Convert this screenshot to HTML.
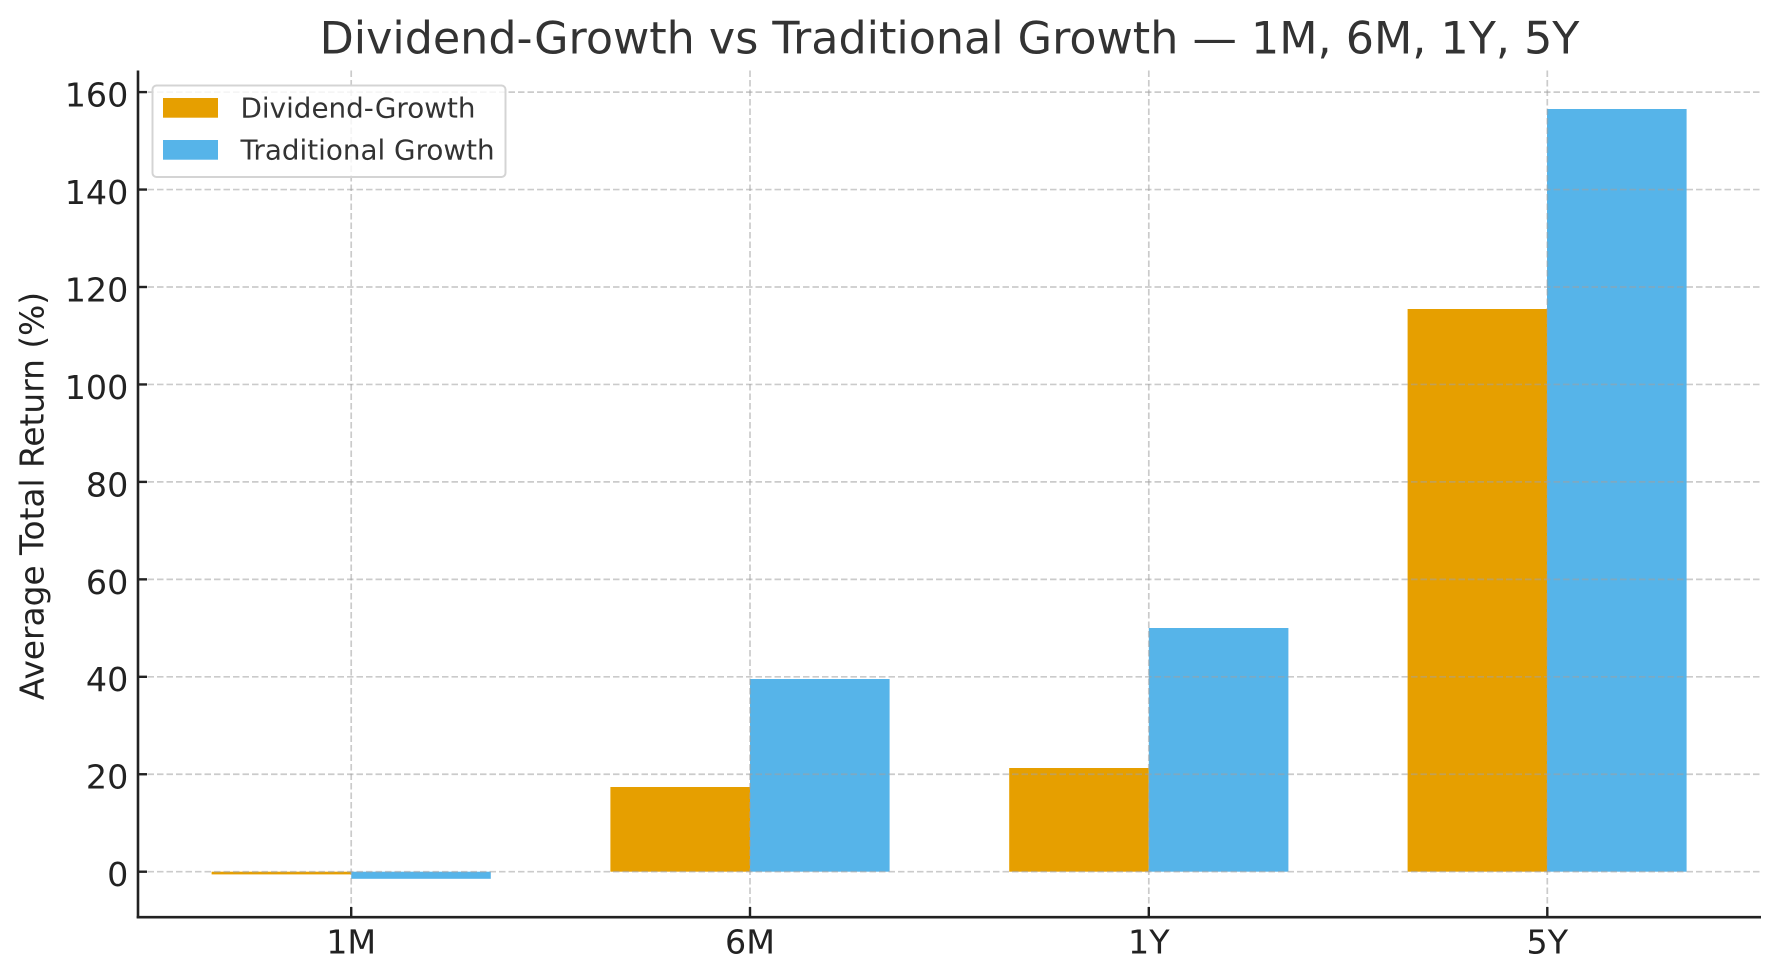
<!DOCTYPE html>
<html>
<head>
<meta charset="utf-8">
<style>
  html, body { margin: 0; padding: 0; background: #ffffff; }
  body { width: 1779px; height: 980px; overflow: hidden; }
  svg { display: block; }
  text { font-family: "DejaVu Sans", "Liberation Sans", sans-serif; }
</style>
</head>
<body>
<svg width="1779" height="980" viewBox="0 0 1779 980" xmlns="http://www.w3.org/2000/svg">
  <rect x="0" y="0" width="1779" height="980" fill="#ffffff"/>

  <!-- Title -->
  <text x="949.5" y="53.3" font-size="44.4" fill="#333333" text-anchor="middle">Dividend-Growth vs Traditional Growth — 1M, 6M, 1Y, 5Y</text>

  <!-- Bars: Dividend-Growth (orange) -->
  <g fill="#E69F00">
    <rect x="211.6" y="871.7" width="139.6" height="2.7"/>
    <rect x="610.4" y="787" width="139.6" height="84.7"/>
    <rect x="1009.2" y="768" width="139.6" height="103.7"/>
    <rect x="1407.6" y="309" width="139.6" height="562.7"/>
  </g>
  <!-- Bars: Traditional Growth (blue) -->
  <g fill="#56B4E9">
    <rect x="351.2" y="871.7" width="139.6" height="7.1"/>
    <rect x="750" y="679" width="139.6" height="192.7"/>
    <rect x="1148.8" y="628" width="139.6" height="243.7"/>
    <rect x="1547" y="109" width="139.6" height="762.7"/>
  </g>

  <!-- Grid lines (drawn on top of bars) -->
  <g stroke="rgba(160,160,160,0.55)" stroke-width="1.7" stroke-dasharray="6.5 3" fill="none">
    <line x1="138" y1="871.7" x2="1761" y2="871.7"/>
    <line x1="138" y1="774.25" x2="1761" y2="774.25"/>
    <line x1="138" y1="676.8" x2="1761" y2="676.8"/>
    <line x1="138" y1="579.35" x2="1761" y2="579.35"/>
    <line x1="138" y1="481.9" x2="1761" y2="481.9"/>
    <line x1="138" y1="384.45" x2="1761" y2="384.45"/>
    <line x1="138" y1="287" x2="1761" y2="287"/>
    <line x1="138" y1="189.55" x2="1761" y2="189.55"/>
    <line x1="138" y1="92.1" x2="1761" y2="92.1"/>
    <line x1="351.2" y1="70.5" x2="351.2" y2="917"/>
    <line x1="750" y1="70.5" x2="750" y2="917"/>
    <line x1="1148.8" y1="70.5" x2="1148.8" y2="917"/>
    <line x1="1547.3" y1="70.5" x2="1547.3" y2="917"/>
  </g>

  <!-- Spines -->
  <g stroke="#222222" stroke-width="2.6" fill="none">
    <line x1="138" y1="70.5" x2="138" y2="918.3"/>
    <line x1="136.7" y1="917.2" x2="1761" y2="917.2"/>
  </g>

  <!-- Y ticks (inward) -->
  <g stroke="#222222" stroke-width="2.4">
    <line x1="138" y1="871.7" x2="147" y2="871.7"/>
    <line x1="138" y1="774.25" x2="147" y2="774.25"/>
    <line x1="138" y1="676.8" x2="147" y2="676.8"/>
    <line x1="138" y1="579.35" x2="147" y2="579.35"/>
    <line x1="138" y1="481.9" x2="147" y2="481.9"/>
    <line x1="138" y1="384.45" x2="147" y2="384.45"/>
    <line x1="138" y1="287" x2="147" y2="287"/>
    <line x1="138" y1="189.55" x2="147" y2="189.55"/>
    <line x1="138" y1="92.1" x2="147" y2="92.1"/>
    <!-- X ticks (inward) -->
    <line x1="351.2" y1="917" x2="351.2" y2="907"/>
    <line x1="750" y1="917" x2="750" y2="907"/>
    <line x1="1148.8" y1="917" x2="1148.8" y2="907"/>
    <line x1="1547.3" y1="917" x2="1547.3" y2="907"/>
  </g>

  <!-- Y tick labels -->
  <g font-size="33.3" fill="#222222" text-anchor="end">
    <text x="128.3" y="886.1">0</text>
    <text x="128.3" y="788.65">20</text>
    <text x="128.3" y="691.2">40</text>
    <text x="128.3" y="593.75">60</text>
    <text x="128.3" y="496.3">80</text>
    <text x="128.3" y="398.85">100</text>
    <text x="128.3" y="301.4">120</text>
    <text x="128.3" y="203.95">140</text>
    <text x="128.3" y="106.5">160</text>
  </g>

  <!-- X tick labels -->
  <g font-size="33.3" fill="#222222" text-anchor="middle">
    <text x="351.2" y="953.3">1M</text>
    <text x="750" y="953.3">6M</text>
    <text x="1148.8" y="953.3">1Y</text>
    <text x="1547.3" y="953.3">5Y</text>
  </g>

  <!-- Y axis label -->
  <text x="0" y="0" font-size="32.8" fill="#222222" text-anchor="middle" transform="translate(43.3,496) rotate(-90)">Average Total Return (%)</text>

  <!-- Legend -->
  <rect x="152.5" y="85.5" width="353" height="91.5" rx="4" ry="4" fill="rgba(255,255,255,0.8)" stroke="#d4d4d4" stroke-width="2"/>
  <rect x="163" y="98" width="55" height="19.7" fill="#E69F00"/>
  <rect x="163" y="140" width="55" height="19.7" fill="#56B4E9"/>
  <text x="240.5" y="117.3" font-size="27.8" fill="#333333">Dividend-Growth</text>
  <text x="240.5" y="159.5" font-size="27.8" fill="#333333">Traditional Growth</text>
</svg>
</body>
</html>
